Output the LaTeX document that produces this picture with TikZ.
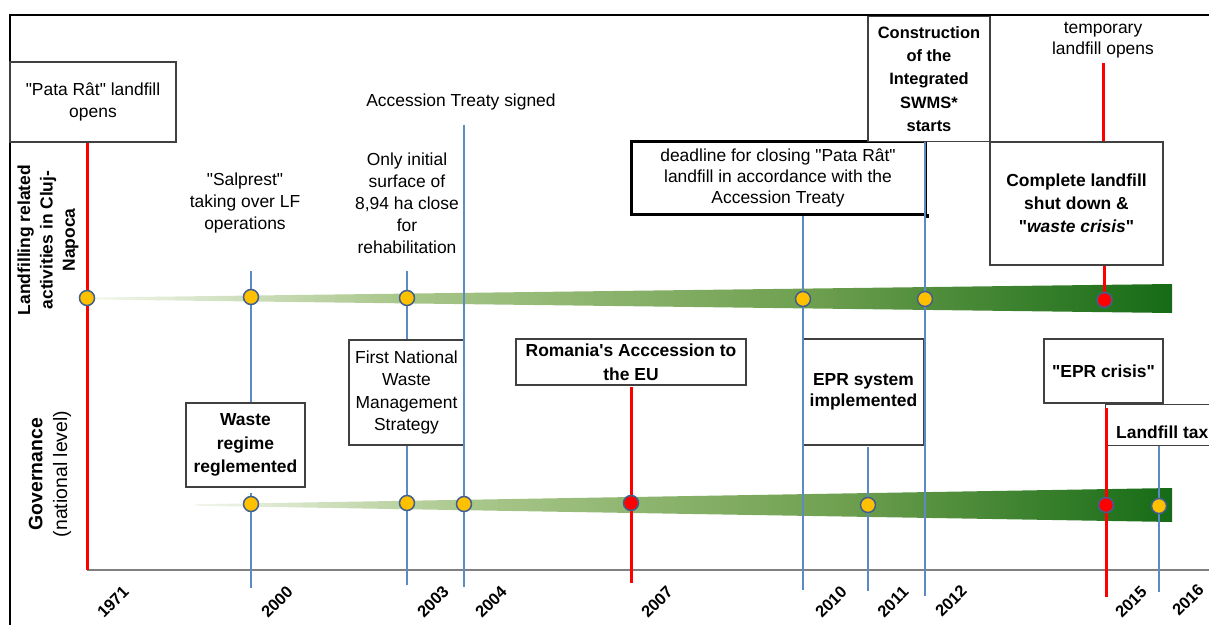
\documentclass[tikz,border=0pt]{standalone}
\usepackage{fontspec}
\newfontfamily\lsans{Liberation Sans}
\usetikzlibrary{calc}
\definecolor{bluel}{HTML}{5B8AC5}
\definecolor{redl}{HTML}{FF0000}
\definecolor{circb}{HTML}{3F5F8F}
\definecolor{goldc}{HTML}{FFC000}
\definecolor{boxc}{HTML}{404040}
\definecolor{axisc}{HTML}{808080}
\definecolor{bandA}{HTML}{F2F6EC}
\definecolor{bandB}{HTML}{A9C78B}
\definecolor{bandC}{HTML}{6FA050}
\definecolor{bandD}{HTML}{166B16}
\pgfdeclarehorizontalshading{bandshade}{100bp}{color(0bp)=(bandA); color(25bp)=(bandA); color(39bp)=(bandB); color(58bp)=(bandC); color(75bp)=(bandD); color(100bp)=(bandD)}
\newcommand\mytxt{\lsans\fontsize{17.5}{22.5}\selectfont}
\newcommand\myyear{\lsans\bfseries\fontsize{16.5}{18}\selectfont}
\begin{document}
\begin{tikzpicture}[x=1bp,y=-1bp,
  mybox/.style={draw=boxc, line width=1.2bp, fill=white, inner sep=0pt, align=center, font=\mytxt},
  plaintext/.style={inner sep=0pt, align=center, font=\mytxt},
  bl/.style={draw=bluel, line width=2bp},
  rl/.style={draw=redl, line width=3bp},
  dot/.style={circle, draw=circb, line width=1.5bp, fill=goldc, minimum size=15bp, inner sep=0pt},
  rdot/.style={dot, fill=redl},
  yr/.style={rotate=45, inner sep=0pt, font=\myyear}]
\useasboundingbox (0,0) rectangle (1209,625);
% frame and axis
\draw[black, line width=2bp] (10,625) -- (10,15) -- (1209,15);
\coordinate (axL) at (87,570);
\coordinate (axR) at (1209,570);
\draw[axisc, line width=1.5bp] (axL) -- (axR);

% boxes
\node[mybox, minimum width=166bp, minimum height=80bp] (pata) at (93,102) {"Pata Rât" landfill\\opens};
\node[mybox, draw=black, line width=3bp, minimum width=294bp, minimum height=73bp, font=\lsans\fontsize{17.5}{21.5}\selectfont] (dead) at (778,178) {deadline for closing "Pata Rât"\\landfill in accordance with the\\Accession Treaty};
\node[fill=black, minimum size=4bp, inner sep=0pt] (handle) at (dead.south east) {};
\node[mybox, minimum width=122bp, minimum height=125bp, font=\lsans\bfseries\fontsize{16.5}{23.3}\selectfont] (constr) at (929,79) {Construction\\of the\\Integrated\\SWMS*\\starts};
\node[mybox, minimum width=173bp, minimum height=123bp, font=\lsans\bfseries\fontsize{17.5}{23}\selectfont] (comp) at (1076.5,203.5) {Complete landfill\\shut down \&\\"\textit{waste crisis}"};
\node[mybox, minimum width=115bp, minimum height=105bp] (fnat) at (406.5,392.5) {First National\\Waste\\Management\\Strategy};
\node[mybox, minimum width=119bp, minimum height=84bp, font=\lsans\bfseries\fontsize{17.5}{23.5}\selectfont] (waste) at (245.5,445) {Waste\\regime\\reglemented};
\node[mybox, minimum width=230bp, minimum height=46bp, font=\lsans\bfseries\fontsize{17.5}{24}\selectfont] (rom) at (631,362) {Romania's Acccession to\\the EU};
\node[mybox, minimum width=121bp, minimum height=106bp, font=\lsans\bfseries\fontsize{17.5}{21.5}\selectfont] (epr) at (863.5,392) {EPR system\\implemented};
\node[mybox, minimum width=119bp, minimum height=64bp, font=\lsans\bfseries\fontsize{17.5}{22}\selectfont] (eprc) at (1103.5,371) {"EPR crisis"};
\node[mybox, anchor=north west, minimum width=130bp, minimum height=41bp] (tax) at (1105,404) {};
\node[plaintext, anchor=west, font=\lsans\bfseries\fontsize{17.5}{22}\selectfont] (taxt) at (1116,432) {Landfill tax};

% free texts
\node[plaintext] (salp) at (245,203) {"Salprest"\\taking over LF\\operations};
\node[plaintext, font=\lsans\fontsize{17.5}{22}\selectfont] (only) at (407,203) {Only initial\\surface of\\8,94 ha close\\for\\rehabilitation};
\node[plaintext] (acc) at (461,102) {Accession Treaty signed};
\node[plaintext, font=\lsans\fontsize{17.5}{21}\selectfont] (temp) at (1103,40) {temporary\\landfill opens};

% row labels
\node[plaintext, rotate=90, font=\lsans\bfseries\fontsize{17.5}{22.5}\selectfont] (rowA) at (48,240) {Landfilling related\\activities in Cluj-\\Napoca};
\node[plaintext, rotate=90, font=\lsans\fontsize{19.5}{25}\selectfont] (rowB) at (50,474) {\textbf{Governance}\\(national level)};

% bands
\shade[shading=bandshade] (95,297.5) -- (1172,284) -- (1172,313) -- (95,299.5) -- cycle;
\shade[shading=bandshade] (195,504.3) -- (1172,488) -- (1172,522) -- (195,505.7) -- cycle;

% circle positions
\coordinate (p71) at (87,298);
\coordinate (p00a) at (251,297);
\coordinate (p03a) at (407,298);
\coordinate (p10a) at (803,299);
\coordinate (p12a) at (925,299);
\coordinate (p15a) at (1104.5,300);
\coordinate (p00b) at (251,504);
\coordinate (p03b) at (407,503);
\coordinate (p04b) at (464,504);
\coordinate (p07b) at (631,503);
\coordinate (p11b) at (868,505);
\coordinate (p15b) at (1106,505);
\coordinate (p16b) at (1159,506);

% line end points
\coordinate (t00) at (251,271);
\coordinate (t00b) at (251,493);
\coordinate (b00) at (251,588);
\coordinate (t03) at (407,271);
\coordinate (b03) at (407,585);
\coordinate (t04) at (464,125);
\coordinate (b04) at (464,587);
\coordinate (t07) at (631,387);
\coordinate (b07) at (631,583);
\coordinate (b10) at (803,590);
\coordinate (t11) at (868,447);
\coordinate (b11) at (868,591);
\coordinate (b12) at (925,596);
\coordinate (t15) at (1103.5,63);
\coordinate (t15b) at (1106,408);
\coordinate (b15) at (1106,597);
\coordinate (t16) at (1159,446);
\coordinate (b16) at (1159,592);

% vertical lines
\draw[rl] (pata.south -| p71) -- (p71) -- (p71 |- axL);
\draw[bl] (t00) -- (p00a) -- (waste.north -| p00a);
\draw[bl] (t00b) -- (p00b) -- (b00);
\draw[bl] (t03) -- (p03a) -- (fnat.north -| p03a);
\draw[bl] (fnat.south -| p03b) -- (p03b) -- (b03);
\draw[bl] (t04) -- (p04b) -- (b04);
\draw[rl] (t07) -- (p07b) -- (b07);
\draw[bl] (dead.south -| p10a) -- (p10a) -- (b10);
\draw[bl] (t11) -- (p11b) -- (b11);
\draw[bl] (constr.south -| p12a) -- (p12a) -- (b12);
\draw[rl] (t15) -- (comp.north -| t15);
\draw[rl] (comp.south -| p15a) -- (p15a);
\draw[rl] (t15b) -- (p15b) -- (b15);
\draw[bl] (t16) -- (p16b) -- (b16);

% circles
\node[dot] (c71) at (p71) {};
\node[dot] (c00a) at (p00a) {};
\node[dot] (c03a) at (p03a) {};
\node[dot] (c10a) at (p10a) {};
\node[dot] (c12a) at (p12a) {};
\node[rdot] (c15a) at (p15a) {};
\node[dot] (c00b) at (p00b) {};
\node[dot] (c03b) at (p03b) {};
\node[dot] (c04b) at (p04b) {};
\node[rdot] (c07b) at (p07b) {};
\node[dot] (c11b) at (p11b) {};
\node[rdot] (c15b) at (p15b) {};
\node[dot] (c16b) at (p16b) {};

% years
\node[yr] (y71) at (113,602) {1971};
\node[yr] (y00) at (277,602) {2000};
\node[yr] (y03) at (433,602) {2003};
\node[yr] (y04) at (491,602) {2004};
\node[yr] (y07) at (657,602) {2007};
\node[yr] (y10) at (831,602) {2010};
\node[yr] (y11) at (893,602) {2011};
\node[yr] (y12) at (951,601) {2012};
\node[yr] (y15) at (1131,602) {2015};
\node[yr] (y16) at (1188,600) {2016};
\end{tikzpicture}
\end{document}
